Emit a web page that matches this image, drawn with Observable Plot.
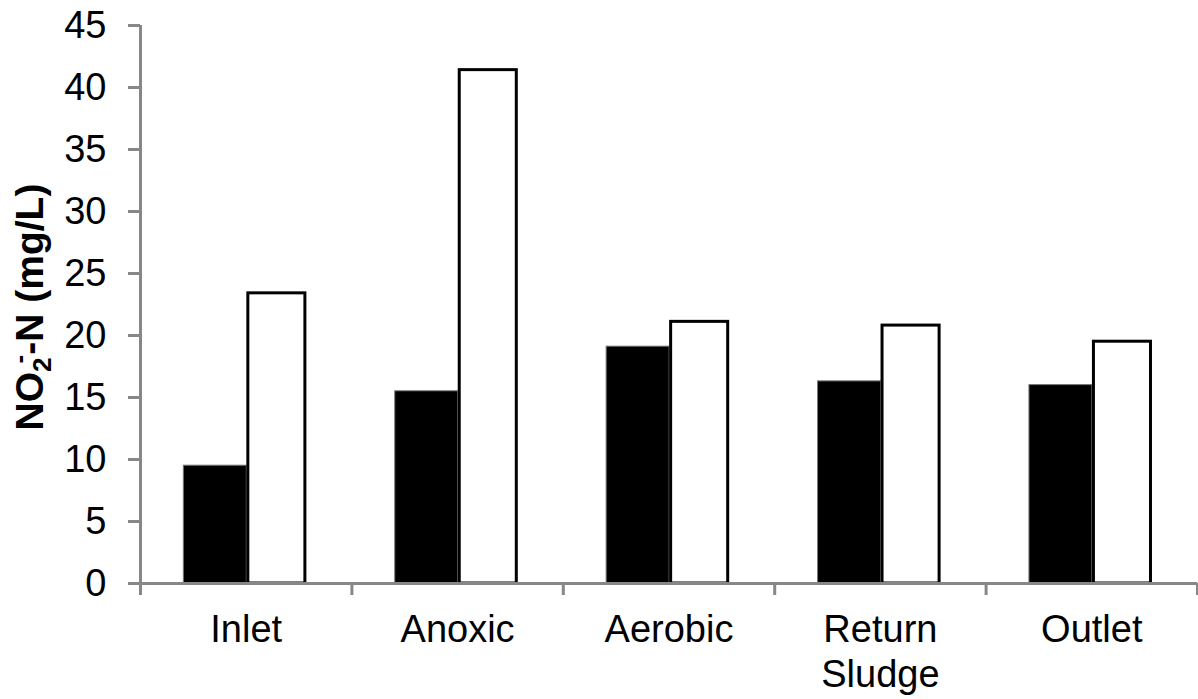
<!DOCTYPE html>
<html>
<head>
<meta charset="utf-8">
<script src="https://cdn.jsdelivr.net/npm/d3@7"></script>
<script src="https://cdn.jsdelivr.net/npm/@observablehq/plot@0.6"></script>
<style>
  html, body { margin: 0; padding: 0; background: #fff; }
  #chart svg { display: block; }
</style>
</head>
<body>
<div id="chart"></div>
<script>
// Data
const categories = ["Inlet", "Anoxic", "Aerobic", "Return\nSludge", "Outlet"];
const seriesBlack = [9.5, 15.5, 19.1, 16.3, 16.0];
const seriesWhite = [23.4, 41.4, 21.1, 20.8, 19.5];
const yTicks = [0, 5, 10, 15, 20, 25, 30, 35, 40, 45];

const rows = categories.map((c, i) => ({ cat: c, i, black: seriesBlack[i], white: seriesWhite[i] }));

const FONT = "'Liberation Sans', Arial, Helvetica, sans-serif";
const AXIS = "#878787";
// bar layout within each category slot (fraction of slot)
const B0 = 0.205, BM = 0.503, B1 = 0.78;

const plot = Plot.plot({
  width: 1198,
  height: 699,
  marginLeft: 140,
  marginRight: 1,
  marginTop: 25,
  marginBottom: 116,
  style: { fontFamily: FONT, fontSize: "38px", color: "#000", background: "#fff" },
  x: { type: "linear", domain: [0, categories.length], axis: null },
  y: { domain: [0, 45], axis: null },
  marks: [
    Plot.rectY(rows, { x1: d => d.i + B0, x2: d => d.i + BM, y1: 0, y2: "black", fill: "#000", stroke: "#777", strokeWidth: 1 }),
    Plot.rectY(rows, { x1: d => d.i + BM, x2: d => d.i + B1, y1: 0, y2: "white", fill: "#fff", stroke: "#000", strokeWidth: 3, insetLeft: 1.5 }),
    Plot.axisY({ ticks: yTicks, tickSize: 12, tickPadding: 22, stroke: AXIS, strokeWidth: 3, fill: "#000", fontSize: 38, label: null, tickFormat: d => String(d) }),
    Plot.ruleX([0], { stroke: AXIS, strokeWidth: 3 }),
    Plot.ruleY([0], { stroke: AXIS, strokeWidth: 3 }),
    Plot.axisX({ ticks: d3.range(0, categories.length + 1), tickSize: 12, stroke: AXIS, strokeWidth: 3, tickFormat: () => "", label: null }),
    Plot.text(rows, { x: d => d.i + 0.5, y: 0, text: "cat", lineAnchor: "top", dy: 27, fontSize: 38, lineHeight: 1.17, fill: "#000" })
  ]
});

document.getElementById("chart").appendChild(plot);

// Y-axis title with subscript / superscript
const svg = d3.select(plot);
const t = svg.append("text")
  .attr("transform", "translate(43,307) rotate(-90)")
  .attr("text-anchor", "middle")
  .attr("font-family", FONT)
  .attr("font-weight", "bold")
  .attr("font-size", 39)
  .attr("fill", "#000");
t.append("tspan").text("NO");
t.append("tspan").attr("font-size", 26).attr("dy", 8).text("2");
t.append("tspan").attr("font-size", 26).attr("dx", -6).attr("dy", -23).text("-");
t.append("tspan").attr("dy", 15).text("-N (mg/L)");
</script>
</body>
</html>
